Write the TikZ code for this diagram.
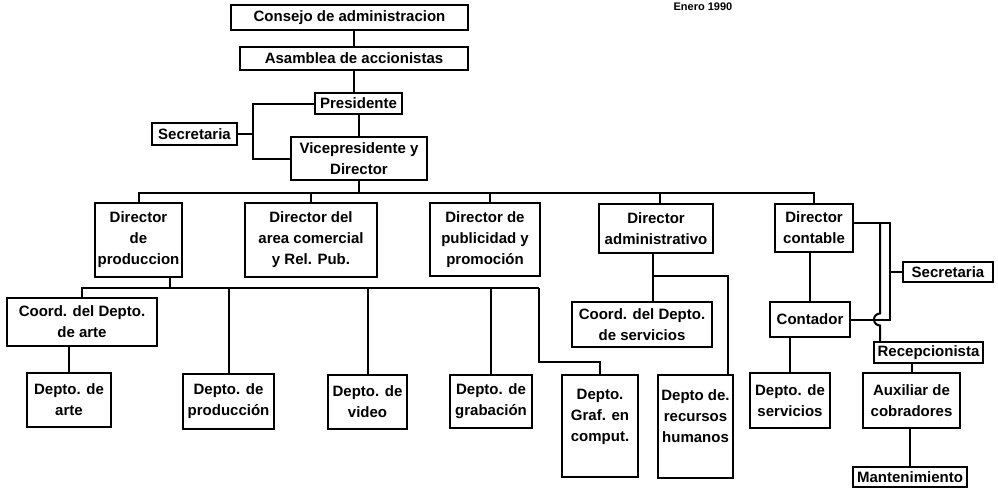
\documentclass[tikz,border=0pt]{standalone}
\usepackage{fontspec}
\setmainfont{Liberation Sans}
\usetikzlibrary{calc}
\begin{document}
\begin{tikzpicture}[x=1pt,y=-1pt,
  box/.style={draw, line width=2pt, inner sep=1pt, align=center,
    font=\fontsize{15}{21}\selectfont\bfseries},
  conn/.style={line width=2pt, line join=miter}]
\useasboundingbox (0,0) rectangle (998,491);

% header
\node[anchor=north, font=\fontsize{11}{12}\selectfont\bfseries] (fecha) at (703,-1) {Enero 1990};

% top chain
\node[box, minimum width=237pt, minimum height=25pt] (consejo) at (349.5,17.5) {Consejo de administracion};
\node[box, minimum width=228pt, minimum height=23pt] (asamblea) at (354,58.5) {Asamblea de accionistas};
\node[box, minimum width=87pt, minimum height=21pt] (pres) at (358.5,103.5) {Presidente};
\node[box, minimum width=136pt, minimum height=43pt] (vice) at (359,158.5) {Vicepresidente y\\Director};
\node[box, minimum width=85pt, minimum height=22pt] (secL) at (194.5,134) {Secretaria};

% directors
\node[box, minimum width=87pt, minimum height=74pt] (dprod) at (138.5,240) {Director\\de\\produccion};
\node[box, minimum width=132pt, minimum height=74pt] (dcom) at (311,240) {Director del\\area comercial\\y Rel. Pub.};
\node[box, minimum width=110pt, minimum height=73pt] (dpub) at (485,239.5) {Director de\\publicidad y\\promoción};
\node[box, minimum width=114pt, minimum height=49pt] (dadm) at (656,228.5) {Director\\administrativo};
\node[box, minimum width=78pt, minimum height=48pt] (dcont) at (814,228) {Director\\contable};

% second level
\node[box, minimum width=150pt, minimum height=48pt] (coordarte) at (82,322) {Coord. del Depto.\\de arte};
\node[box, minimum width=140pt, minimum height=45pt] (coordserv) at (642,324.5) {Coord. del Depto.\\de servicios};
\node[box, minimum width=80pt, minimum height=35pt] (contador) at (810,319.5) {Contador};
\node[box, minimum width=90pt, minimum height=20pt] (secR) at (948,272) {Secretaria};
\node[box, minimum width=109pt, minimum height=21pt] (recep) at (928.5,352.5) {Recepcionista};

% departments
\node[box, minimum width=84pt, minimum height=54pt] (darte) at (69,400) {Depto. de\\arte};
\node[box, minimum width=91pt, minimum height=55pt] (dproduc) at (228.5,401.5) {Depto. de\\producción};
\node[box, minimum width=79pt, minimum height=54pt] (dvideo) at (367.5,402) {Depto. de\\video};
\node[box, minimum width=82pt, minimum height=53pt] (dgrab) at (491,401.5) {Depto. de\\grabación};
\node[box, minimum width=76pt, minimum height=102pt] (dgraf) at (600,426) {Depto.\\Graf. en\\comput.\\\mbox{}};
\node[box, minimum width=75pt, minimum height=103pt] (drrhh) at (695.5,426.5) {Depto de.\\recursos\\humanos\\\mbox{}};
\node[box, minimum width=80pt, minimum height=55pt] (dserv) at (790,400.5) {Depto. de\\servicios};
\node[box, minimum width=97pt, minimum height=55pt] (aux) at (911.5,400.5) {Auxiliar de\\cobradores};
\node[box, minimum width=114pt, minimum height=20pt] (mant) at (910,477) {Mantenimiento};

% helper coordinates
\coordinate (sj) at (253,134);
\coordinate (busR) at (814,193);
\coordinate (pb) at (170,288);
\coordinate (pbR) at (539,288);
\coordinate (gt) at (539,362);
\coordinate (aj) at (653,276);
\coordinate (cr) at (890,223);
\coordinate (hx1) at (880,223);
\coordinate (hx2) at (880,313.5);
\coordinate (pubx) at (490,0);
\coordinate (admx) at (660,0);

% connectors
\draw[conn] (asamblea.north) -- (asamblea.north |- consejo.south);
\draw[conn] (asamblea.south) -- (asamblea.south |- pres.north);
\draw[conn] (pres.south) -- (pres.south |- vice.north);
\draw[conn] (pres.west) -| (sj) |- (vice.west);
\draw[conn] (secL.east) -- (sj);

\draw[conn] (dprod.north) |- (busR) -- (dcont.north);
\draw[conn] (vice.south) -- (vice.south |- busR);
\draw[conn] (dcom.north) -- (dcom.north |- busR);
\draw[conn] (dpub.north -| pubx) -- (pubx |- busR);
\draw[conn] (dadm.north -| admx) -- (admx |- busR);

\draw[conn] (pb |- dprod.south) -- (pb);
\draw[conn] (coordarte.north) |- (pbR);
\draw[conn] (dproduc.north) -- (dproduc.north |- pbR);
\draw[conn] (dvideo.north) -- (dvideo.north |- pbR);
\draw[conn] (dgrab.north) -- (dgrab.north |- pbR);
\draw[conn] (pbR) -- (gt) -| (dgraf.north);
\draw[conn] (darte.north) -- (darte.north |- coordarte.south);

\draw[conn] (dadm.south -| aj) -- (coordserv.north -| aj);
\draw[conn] (aj) -| ($(drrhh.north east)+(-6,0)$);

\draw[conn] (contador.north) -- (contador.north |- dcont.south);
\draw[conn] (dserv.north) -- (dserv.north |- contador.south);
\draw[conn] (contador.east) -| (cr) -- (cr -| dcont.east);
\draw[conn] (secR.west) -- (secR.west -| cr);
\draw[conn] (hx1) -- (hx2) arc[start angle=270, end angle=90, radius=6] -- (recep.north -| hx1);
\draw[conn] (aux.north) -- (aux.north |- recep.south);
\draw[conn] (mant.north) -- (mant.north |- aux.south);
\end{tikzpicture}
\end{document}
